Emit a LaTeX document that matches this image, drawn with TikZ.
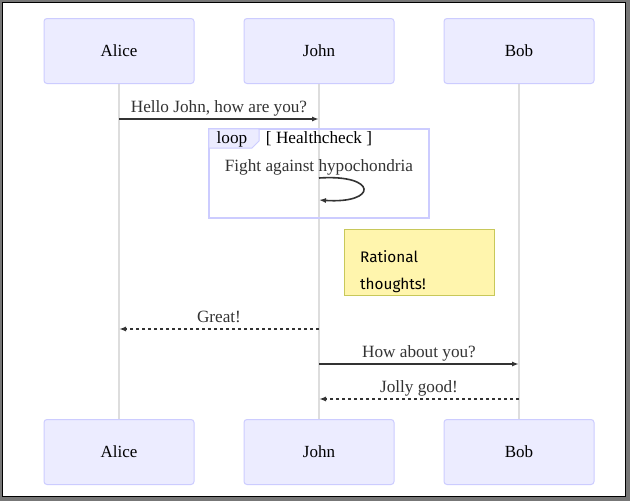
\documentclass[tikz,border=0pt]{standalone}
\usepackage{fontspec}
\setmainfont{Liberation Serif}
\newfontfamily\notefont{Fira Sans}
\usetikzlibrary{arrows.meta}
\definecolor{actfill}{HTML}{ECECFF}
\definecolor{actdraw}{HTML}{CCCCFF}
\definecolor{lifec}{HTML}{DDDDDD}
\definecolor{txt}{HTML}{333333}
\definecolor{notefill}{HTML}{FFF5AD}
\definecolor{notedraw}{HTML}{C8C85A}
\definecolor{framegray}{HTML}{777777}
\tikzset{
  actor/.style={draw=actdraw, fill=actfill, line width=1pt, rounded corners=3pt,
    minimum width=150pt, minimum height=65pt, inner sep=0pt},
  actortext/.style={font=\fontsize{17}{20}\selectfont, text=black, inner sep=0pt, anchor=base},
  life/.style={draw=lifec, line width=1.6pt},
  msgline/.style={draw=txt, line width=1.6pt, -{Latex[length=7pt,width=5pt]}},
  dashline/.style={msgline, dash pattern=on 3pt off 3pt},
  msgtext/.style={text=txt, font=\fontsize{17.2}{20}\selectfont, inner sep=0pt, anchor=base},
  loopbox/.style={draw=actdraw, line width=1.6pt},
  note/.style={draw=notedraw, fill=notefill, line width=1pt, minimum width=150pt, minimum height=66pt, inner sep=0pt},
  notetext/.style={font=\notefont\fontsize{15.3}{27}\selectfont, text=black, align=left, inner sep=0pt, anchor=north west}
}
\begin{document}
\begin{tikzpicture}[x=1pt,y=-1pt]
\useasboundingbox (0,0) rectangle (630,501);
% frame
\fill[framegray] (0,0) rectangle (630,501);
\fill[white] (3,3) rectangle (626,497);
\draw[black, line width=1pt] (2.5,497) -- (2.5,2.5) -- (626,2.5);
\draw[black, line width=1.2pt] (3,496.4) -- (625.4,496.4) -- (625.4,3);
% actors
\node[actor] (at) at (119,51) {};
\node[actor] (jt) at (319,51) {};
\node[actor] (bt) at (519,51) {};
\node[actor] (ab) at (119,452) {};
\node[actor] (jb) at (319,452) {};
\node[actor] (bb) at (519,452) {};
\node[actortext] (atx) at (119,56.5) {Alice};
\node[actortext] (jtx) at (319,56.5) {John};
\node[actortext] (btx) at (519,56.5) {Bob};
\node[actortext] (abx) at (119,457.5) {Alice};
\node[actortext] (jbx) at (319,457.5) {John};
\node[actortext] (bbx) at (519,457.5) {Bob};
% lifelines
\draw[life] (at.south) -- (ab.north);
\draw[life] (jt.south) -- (jb.north);
\draw[life] (bt.south) -- (bb.north);
% message 1
\coordinate (m1a) at (119,119);
\coordinate (m1b) at (319,119);
\node[msgtext] (t1) at (219,112) {Hello John, how are you?};
\draw[msgline] (m1a) -- (m1b);
% loop
\node[draw=none, minimum width=220pt, minimum height=89pt, inner sep=0pt] (loop) at (319,173.5) {};
\draw[loopbox] (loop.north west) rectangle (loop.south east);
\coordinate (tabA) at (259,129);
\filldraw[draw=actdraw, fill=actfill, line width=1pt] (loop.north west) -- (tabA) -- (259,141) -- (252,148) -- (209,148) -- cycle;
\node[msgtext, text=black] (lp) at (232,143.5) {loop};
\node[msgtext, text=black] (hc) at (319,143.5) {[ Healthcheck ]};
\node[msgtext] (fh) at (319,171.5) {Fight against hypochondria};
\coordinate (s1) at (319,178);
\coordinate (s2) at (319,200);
\draw[msgline] (s1) .. controls (378,174) and (378,204) .. (s2);
% note
\node[note] (nt) at (419,262) {};
\node[notetext] (ntx) at (360,250.5) {Rational\\thoughts!};
% message 2
\coordinate (m2a) at (319,329);
\coordinate (m2b) at (119,329);
\node[msgtext] (t2) at (219,322.5) {Great!};
\draw[dashline] (m2a) -- (m2b);
% message 3
\coordinate (m3a) at (319,364);
\coordinate (m3b) at (519,364);
\node[msgtext] (t3) at (419,357.5) {How about you?};
\draw[msgline] (m3a) -- (m3b);
% message 4
\coordinate (m4a) at (519,399);
\coordinate (m4b) at (319,399);
\node[msgtext] (t4) at (419,392.5) {Jolly good!};
\draw[dashline] (m4a) -- (m4b);
\end{tikzpicture}
\end{document}
